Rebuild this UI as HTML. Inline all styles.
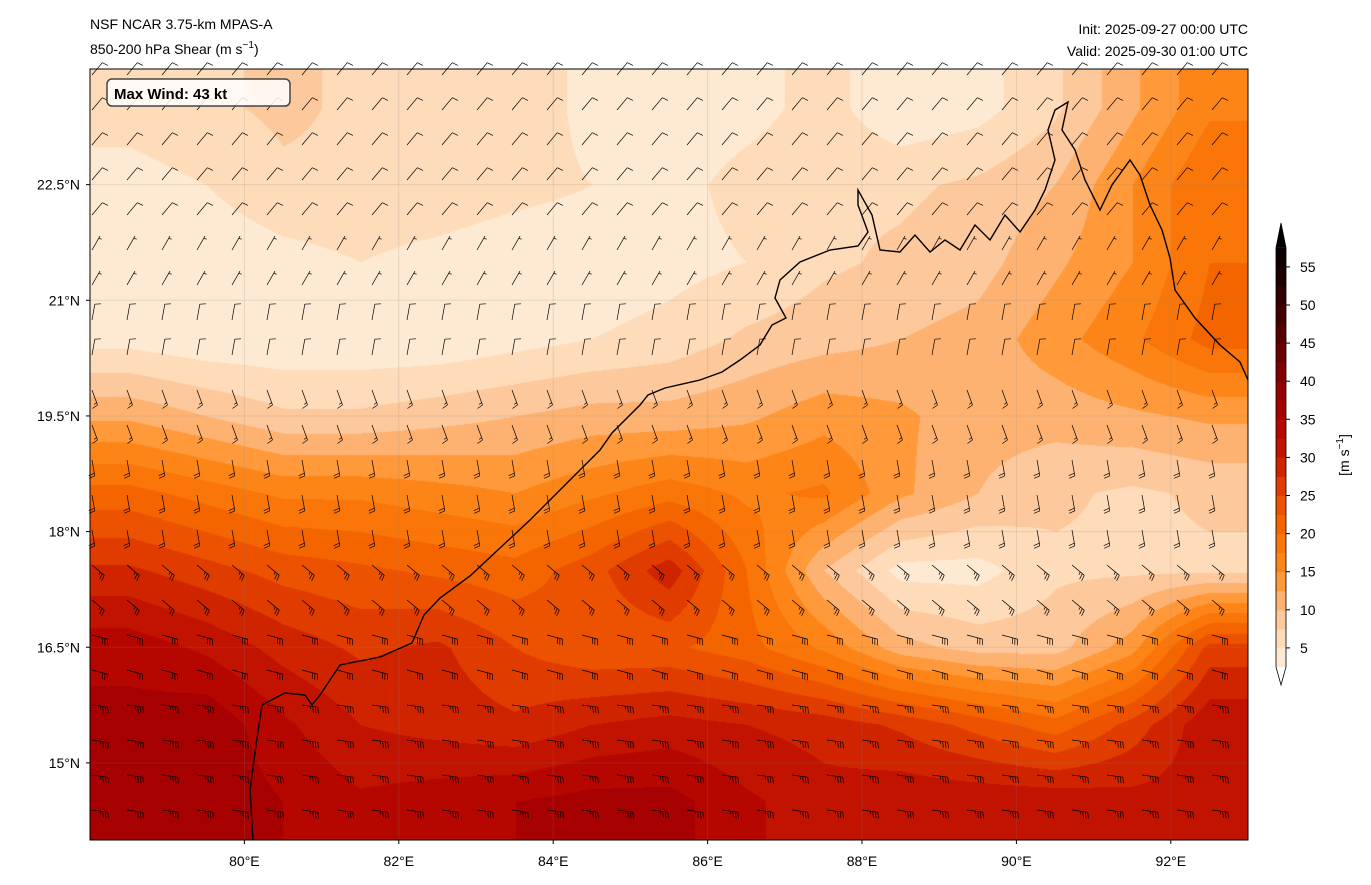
<!DOCTYPE html>
<html><head><meta charset="utf-8">
<style>
body{margin:0;background:#fff;width:1371px;height:885px;overflow:hidden;font-family:"Liberation Sans","DejaVu Sans",sans-serif;}
#wrap{position:relative;width:1371px;height:885px;}
canvas{position:absolute;left:90px;top:69px;}
svg{position:absolute;left:0;top:0;}
</style></head><body>
<div id="wrap">
<canvas id="cv" width="1158" height="771"></canvas>
<svg id="sv" width="1371" height="885"></svg>
</div>
<script>
// Shear magnitude (m/s) on a 1° grid: rows lat 23.5 → 14.5, cols lon 78.5 → 92.5
const lats = [23.5,22.5,21.5,20.5,19.5,18.5,17.5,16.5,15.5,14.5];
const lons = [78.5,79.5,80.5,81.5,82.5,83.5,84.5,85.5,86.5,87.5,88.5,89.5,90.5,91.5,92.5];
const shear0 = [6,7,8,7,6,7,4,3,4,6,3,4,7,12,17];
const shear1 = [4,5,7,7,7,6,5,4,6,7,7,8,10,15,20];
const shear2 = [3,3,4,5,4,3,3,4,5,7,8,9,12,15,20];
const shear3 = [4,3,3,3,3,4,5,6,8,9,10,11,14,17,21];
const shear4 = [12,10,8,8,9,10,11,11,12,14,13,11,11,12,13];
const shear5 = [21,19,17,17,16,15,17,19,17,18,13,10,8,7,8];
const shear6 = [28,26,24,23,22,21,24,29,20,10,4,4,7,7,7];
const shear7 = [34,32,29,27,28,25,23,23,21,17,11,9,9,14,26];
const shear8 = [36,37,33,30,29,28,30,31,30,29,27,24,21,26,32];
const shear9 = [37,37,35,33,34,35,36,36,33,31,32,32,32,31,31];
const shearRows = [shear0,shear1,shear2,shear3,shear4,shear5,shear6,shear7,shear8,shear9];
// barb wind speed (kt) and shaft direction (deg) per latitude row
const barbKt = [10,10,5,10,15,20,25,30,35,35];
const barbDir = [50,50,60,80,-70,-80,-40,-15,-8,-8];
const xTicks = [80,82,84,86,88,90,92];
const yTicks = [15,16.5,18,19.5,21,22.5];
const cbTicks = [5,10,15,20,25,30,35,40,45,50,55];

const X0=90,Y0=69,W=1158,H=771,LON0=78,LON1=93,LAT0=14,LAT1=24;
const xs=lon=>X0+(lon-LON0)/(LON1-LON0)*W;
const ys=lat=>Y0+(LAT1-lat)/(LAT1-LAT0)*H;
const stopV=[0,5,10,15,20,25,30,35,40,45,50,58];
const stopC=[[255,248,240],[254,228,200],[253,190,140],[255,140,30],[248,110,0],[232,72,0],[200,24,0],[176,0,0],[140,0,0],[96,0,0],[58,0,0],[0,0,0]];
function cmap(v){v=Math.max(0,Math.min(58,v));let i=0;while(i<stopV.length-2&&v>stopV[i+1])i++;
 const f=(v-stopV[i])/(stopV[i+1]-stopV[i]);return stopC[i].map((c,k)=>Math.round(c+(stopC[i+1][k]-c)*f));}
function q(v){return Math.floor(v/2.5)*2.5+1.25;}
const cv=document.getElementById('cv'),ctx=cv.getContext('2d');
const img=ctx.createImageData(W,H);
function sample(lon,lat){
 let gx=(lon-lons[0]),gy=(lats[0]-lat);
 gx=Math.max(0,Math.min(lons.length-1.001,gx));gy=Math.max(0,Math.min(lats.length-1.001,gy));
 const i=Math.floor(gx),j=Math.floor(gy),fx=gx-i,fy=gy-j;
 const a=shearRows[j][i],b=shearRows[j][i+1],c=shearRows[j+1][i],d=shearRows[j+1][i+1];
 return a*(1-fx)*(1-fy)+b*fx*(1-fy)+c*(1-fx)*fy+d*fx*fy;}
for(let py=0;py<H;py++){for(let px=0;px<W;px++){
 const lon=LON0+px/W*(LON1-LON0),lat=LAT1-py/H*(LAT1-LAT0);
 const col=cmap(q(sample(lon,lat)));const k=(py*W+px)*4;
 img.data[k]=col[0];img.data[k+1]=col[1];img.data[k+2]=col[2];img.data[k+3]=255;}}
ctx.putImageData(img,0,0);

const NS='http://www.w3.org/2000/svg',sv=document.getElementById('sv');
function el(tag,attrs,parent){const e=document.createElementNS(NS,tag);for(const k in attrs)e.setAttribute(k,attrs[k]);(parent||sv).appendChild(e);return e;}
const grid=el('g',{stroke:'#888','stroke-opacity':0.2,'stroke-width':1});


xTicks.forEach(t=>el('line',{x1:xs(t),x2:xs(t),y1:Y0,y2:Y0+H},grid));
yTicks.forEach(t=>el('line',{x1:X0,x2:X0+W,y1:ys(t),y2:ys(t)},grid));
const coast=el('path',{fill:'none',stroke:'#000','stroke-width':1.4,d:'M253,840 L250,790 L256,745 L262,705 L285,693 L305,695 L312,705 L320,695 L340,665 L380,657 L412,643 L424,615 L440,598 L470,576 L500,548 L530,520 L555,495 L580,470 L600,450 L612,433 L640,405 L648,395 L665,388 L700,380 L722,372 L740,360 L760,345 L772,325 L786,318 L775,298 L780,280 L800,262 L830,250 L858,246 L868,232 L858,205 L858,190 L872,215 L880,250 L900,252 L915,235 L930,252 L945,240 L960,250 L975,225 L990,240 L1005,215 L1020,232 L1035,210 L1045,190 L1055,160 L1048,130 L1055,110 L1068,102 L1062,130 L1075,150 L1085,180 L1100,210 L1112,185 L1130,160 L1140,175 L1150,205 L1162,230 L1170,258 L1175,290 L1195,318 L1220,345 L1240,362 L1248,380'});


const bg=el('g',{stroke:'#000','stroke-width':0.7,fill:'none'});


for(let r=0;r<22;r++){for(let c=0;c<33;c++){
 const ax=92+c*35,ay=75+r*35;if(ax>1244||ay>838)continue;
 const lat=LAT1-(ay-Y0)/H*(LAT1-LAT0);
 const ri=Math.max(0,Math.min(9,Math.floor(LAT1-lat)));
 const kt=barbKt[ri],a=barbDir[ri]*Math.PI/180;
 const dx=Math.cos(a),dy=-Math.sin(a),px=-dy,py=dx,L=16;
 const tx=ax+L*dx,ty=ay+L*dy;
 let d='M'+ax.toFixed(1)+','+ay.toFixed(1)+'L'+tx.toFixed(1)+','+ty.toFixed(1);
 let n=Math.floor(kt/10),half=(kt%10)>=5,pos=0;
 for(let i=0;i<n;i++){const bx=tx-pos*dx,by=ty-pos*dy;d+='M'+bx.toFixed(1)+','+by.toFixed(1)+'l'+(6*px+1.5*dx).toFixed(1)+','+(6*py+1.5*dy).toFixed(1);pos+=2.6;}
 if(half){if(n===0)pos=2.6;const bx=tx-pos*dx,by=ty-pos*dy;d+='M'+bx.toFixed(1)+','+by.toFixed(1)+'l'+(3*px+0.8*dx).toFixed(1)+','+(3*py+0.8*dy).toFixed(1);}
 const b=el('path',{d:d},bg);
 
 
}}
const fr=el('rect',{x:X0,y:Y0,width:W,height:H,fill:'none',stroke:'#000','stroke-width':1});


xTicks.forEach(t=>{const g=el('g',{});
 el('line',{x1:xs(t),x2:xs(t),y1:Y0+H,y2:Y0+H+4,stroke:'#000'},g);
 const tx=el('text',{x:xs(t),y:866,'text-anchor':'middle','font-size':14,fill:'#000'},g);tx.textContent=t+'°E';});
yTicks.forEach(t=>{const g=el('g',{});
 el('line',{x1:X0-4,x2:X0,y1:ys(t),y2:ys(t),stroke:'#000'},g);
 const tx=el('text',{x:80,y:ys(t)+5,'text-anchor':'end','font-size':14,fill:'#000'},g);tx.textContent=t+'°N';});
const cb=el('g',{});
const cy=v=>686-v*7.62, cx=1276, cw=10;
for(let v=2.5;v<57.5;v+=2.5){const c=cmap(v+1.25);el('rect',{x:cx,y:cy(v+2.5),width:cw,height:cy(v)-cy(v+2.5)+0.5,fill:'rgb('+c+')'},cb);}
el('path',{d:`M${cx},${cy(57.5)} L${cx+cw/2},223 L${cx+cw},${cy(57.5)}Z`,fill:'#000'},cb);
el('path',{d:`M${cx},${cy(2.5)} L${cx+cw/2},685 L${cx+cw},${cy(2.5)}Z`,fill:'#fff'},cb);
el('path',{d:`M${cx},${cy(57.5)} L${cx+cw/2},223 L${cx+cw},${cy(57.5)} L${cx+cw},${cy(2.5)} L${cx+cw/2},685 L${cx},${cy(2.5)}Z`,fill:'none',stroke:'#000','stroke-width':0.8},cb);
cbTicks.forEach(t=>{el('line',{x1:cx+cw,x2:cx+cw+4,y1:cy(t),y2:cy(t),stroke:'#000'},cb);
 const tx=el('text',{x:1300,y:cy(t)+5,'font-size':14,fill:'#000'},cb);tx.textContent=t;});
</script>
<svg width="1371" height="885" style="position:absolute;left:0;top:0;pointer-events:none">
<text x="90" y="29" font-size="14" fill="#000">NSF NCAR 3.75-km MPAS-A</text>
<text x="90" y="54" font-size="14" fill="#000">850-200 hPa Shear (m s<tspan font-size="10" dy="-6">−1</tspan><tspan dy="6">)</tspan></text>
<text x="1248" y="34" font-size="14" fill="#000" text-anchor="end">Init: 2025-09-27 00:00 UTC</text>
<text x="1248" y="56" font-size="14" fill="#000" text-anchor="end">Valid: 2025-09-30 01:00 UTC</text>
<text transform="translate(1349,455) rotate(-90)" font-size="14" fill="#000" text-anchor="middle">[m s<tspan font-size="10" dy="-6">−1</tspan><tspan dy="6">]</tspan></text>
<g>
<rect x="107" y="79" width="183" height="27" rx="5" fill="#fff" fill-opacity="0.85" stroke="#444" stroke-width="1.5"/>
<text x="114" y="99" font-size="15" font-weight="bold" fill="#000">Max Wind: 43 kt</text>
</g>
</svg>
</body></html>
